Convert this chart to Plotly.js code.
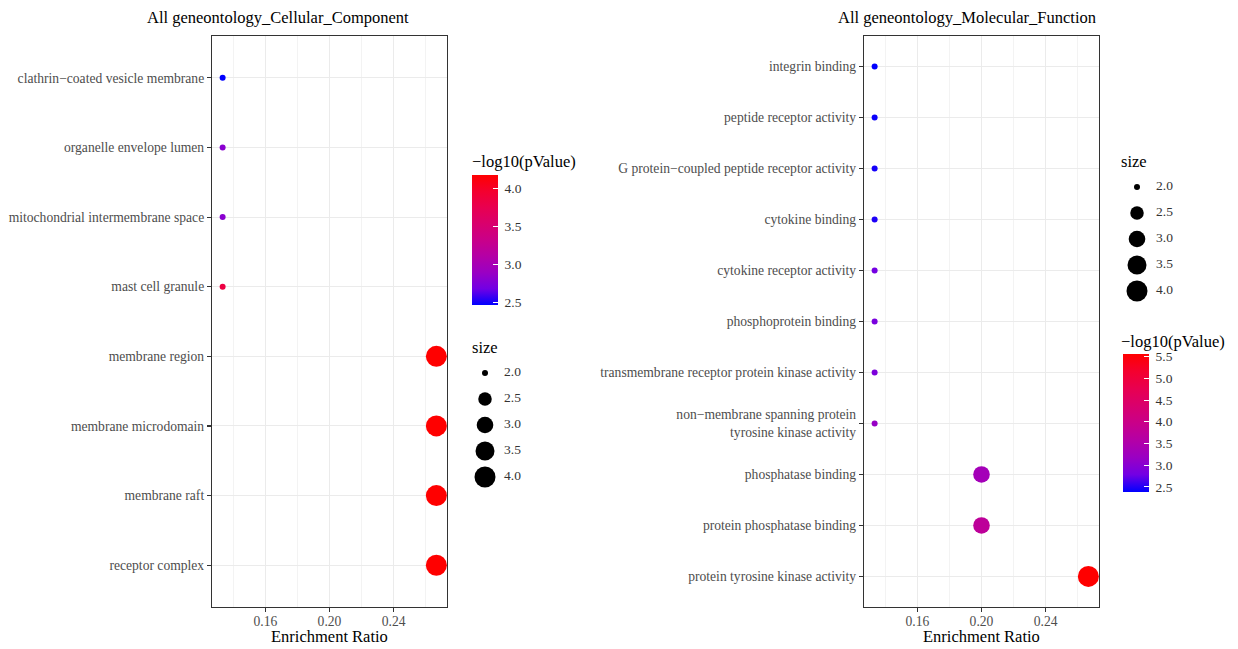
<!DOCTYPE html>
<html><head><meta charset="utf-8">
<script src="https://cdn.plot.ly/plotly-3.0.1.min.js"></script>
<style>html,body{margin:0;padding:0;background:#fff}</style>
</head><body><div id="chart" style="width:1238px;height:649px"></div>
<script>
// ---- Cellular Component data ----
const ccTerms = ['clathrin−coated vesicle membrane','organelle envelope lumen','mitochondrial intermembrane space','mast cell granule','membrane region','membrane microdomain','membrane raft','receptor complex'];
const ccRatio = [0.1333,0.1333,0.1333,0.1333,0.2667,0.2667,0.2667,0.2667];
const ccSize = [2,2,2,2,4,4,4,4];
const ccLogP = [2.47,2.81,2.81,3.83,4.17,4.17,4.17,4.17];
// ---- Molecular Function data ----
const mfTerms = ['integrin binding','peptide receptor activity','G protein−coupled peptide receptor activity','cytokine binding','cytokine receptor activity','phosphoprotein binding','transmembrane receptor protein kinase activity','non−membrane spanning protein<br>tyrosine kinase activity','phosphatase binding','protein phosphatase binding','protein tyrosine kinase activity'];
const mfRatio = [0.1333,0.1333,0.1333,0.1333,0.1333,0.1333,0.1333,0.1333,0.2,0.2,0.2667];
const mfSize = [2,2,2,2,2,2,2,2,3,3,4];
const mfLogP = [2.38,2.42,2.45,2.48,2.80,2.85,2.88,3.15,3.33,3.75,5.56];
// ---- legend breaks ----
const sizeBreaks = [2.0,2.5,3.0,3.5,4.0];
const ccColorTicks = [2.5,3.0,3.5,4.0];
const mfColorTicks = [2.5,3.0,3.5,4.0,4.5,5.0,5.5];

const W = 1238, H = 649;
const px = v => v / W, py = v => 1 - v / H;
const FONT = 'Liberation Serif, Times New Roman, serif';
// ggplot-like blue->red gradient (Lab interpolation approximated)
const cscale = [[0,'rgb(0,0,255)'],[0.125,'rgb(114,0,228)'],[0.25,'rgb(154,0,195)'],[0.375,'rgb(180,0,166)'],[0.5,'rgb(201,0,137)'],[0.625,'rgb(217,0,109)'],[0.75,'rgb(232,0,80)'],[0.875,'rgb(244,0,46)'],[1,'rgb(255,0,0)']];
// area size scale, size range 2..4 -> ggplot size 1..6
const diam = v => { const s = 1 + 5*Math.sqrt(Math.max(0,(v-2)/2)); return 3*s + 3; };

const tickFont = {family: FONT, size: 13.6, color: '#4D4D4D'};
function xax(d0, d1, anchor) {
  return {domain:[px(d0),px(d1)], anchor:anchor, range:[0.126667,0.273333], tick0:0.12, dtick:0.04, tickformat:'.2f',
    ticks:'outside', ticklen:4, tickcolor:'#333', tickwidth:1.1, showline:true, mirror:true, linecolor:'#333', linewidth:1.1,
    showgrid:true, gridcolor:'#EBEBEB', gridwidth:1, zeroline:false, tickfont:tickFont, ticklabelstandoff:-2,
    minor:{tick0:0.14, dtick:0.04, showgrid:true, gridcolor:'#EBEBEB', gridwidth:0.6, ticks:''}};
}
function yax(terms, anchor) {
  return {domain:[py(607),py(36)], anchor:anchor, type:'category', categoryorder:'array', categoryarray:terms,
    range:[terms.length-0.4,-0.6], ticks:'outside', ticklen:4, tickcolor:'#333', tickwidth:1.1,
    showline:true, mirror:true, linecolor:'#333', linewidth:1.1, showgrid:true, gridcolor:'#EBEBEB', gridwidth:1,
    zeroline:false, tickfont:tickFont};
}
function cbar(xl, yc, len, ticks) {
  return {x:px(xl), xanchor:'left', y:py(yc), yanchor:'middle', len:len, lenmode:'pixels', thickness:26, thicknessmode:'pixels',
    xpad:0, ypad:0, outlinewidth:0, ticks:'inside', ticklen:5, tickcolor:'#fff', tickwidth:1,
    tickvals:ticks, ticktext:ticks.map(v => '\u2005' + v.toFixed(1)), tickfont:{family:FONT, size:13.5, color:'#333'}};
}

const legendText = {family:FONT, size:13.5, color:'#333'};
const traces = [
  {type:'scatter', mode:'markers', x:ccRatio, y:ccTerms, xaxis:'x', yaxis:'y', showlegend:false,
   marker:{size:ccSize.map(diam), color:ccLogP, colorscale:cscale, line:{width:0}, opacity:1,
     colorbar:cbar(472, 240, 130, ccColorTicks)}},
  {type:'scatter', mode:'markers', x:mfRatio, y:mfTerms, xaxis:'x2', yaxis:'y2', showlegend:false,
   marker:{size:mfSize.map(diam), color:mfLogP, colorscale:cscale, line:{width:0}, opacity:1,
     colorbar:cbar(1123, 423, 138, mfColorTicks)}},
  // size legends
  {type:'scatter', mode:'markers', x:sizeBreaks.map(()=>0), y:sizeBreaks, xaxis:'x3', yaxis:'y3', showlegend:false, cliponaxis:false,
   marker:{size:sizeBreaks.map(diam), color:'#000', opacity:1, line:{width:0}}, hoverinfo:'skip'},
  {type:'scatter', mode:'text', x:sizeBreaks.map(()=>1.9), y:sizeBreaks, text:sizeBreaks.map(v=>v.toFixed(1)), textposition:'middle right',
   xaxis:'x3', yaxis:'y3', showlegend:false, cliponaxis:false, textfont:legendText, hoverinfo:'skip'},
  {type:'scatter', mode:'markers', x:sizeBreaks.map(()=>0), y:sizeBreaks, xaxis:'x4', yaxis:'y4', showlegend:false, cliponaxis:false,
   marker:{size:sizeBreaks.map(diam), color:'#000', opacity:1, line:{width:0}}, hoverinfo:'skip'},
  {type:'scatter', mode:'text', x:sizeBreaks.map(()=>1.9), y:sizeBreaks, text:sizeBreaks.map(v=>v.toFixed(1)), textposition:'middle right',
   xaxis:'x4', yaxis:'y4', showlegend:false, cliponaxis:false, textfont:legendText, hoverinfo:'skip'}
];

const hidden = (d0,d1,r) => ({domain:[d0,d1], range:r, visible:false, fixedrange:true, showgrid:false, zeroline:false});
const ann = (text, x, y, size, anchor) => ({text:text, xref:'paper', yref:'paper', x:px(x), y:py(y), xanchor:anchor, yanchor:'middle',
  showarrow:false, font:{family:FONT, size:size, color:'#000'}});
const layout = {
  width:W, height:H, margin:{l:0,r:0,t:0,b:0}, paper_bgcolor:'#fff', plot_bgcolor:'#fff', showlegend:false,
  font:{family:FONT},
  xaxis: xax(212, 447, 'y'),
  yaxis: yax(ccTerms, 'x'),
  xaxis2: xax(864, 1099, 'y2'),
  yaxis2: yax(mfTerms, 'x2'),
  xaxis3: Object.assign(hidden(px(475), px(515), [-1,3]), {anchor:'y3'}),
  yaxis3: Object.assign(hidden(py(490), py(360), [4.25,1.75]), {anchor:'x3'}),
  xaxis4: Object.assign(hidden(px(1127), px(1167), [-1,3]), {anchor:'y4'}),
  yaxis4: Object.assign(hidden(py(304), py(174), [4.25,1.75]), {anchor:'x4'}),
  annotations: [
    ann('All geneontology_Cellular_Component', 277.5, 18, 16.5, 'center'),
    ann('All geneontology_Molecular_Function', 966.5, 18, 16.5, 'center'),
    ann('Enrichment Ratio', 329.5, 636.5, 16.5, 'center'),
    ann('Enrichment Ratio', 981.5, 636.5, 16.5, 'center'),
    ann('−log10(pValue)', 470, 161, 16.5, 'left'),
    ann('size', 470, 347, 16.5, 'left'),
    ann('size', 1119, 161, 16.5, 'left'),
    ann('−log10(pValue)', 1119, 341, 16.5, 'left')
  ]
};
Plotly.newPlot('chart', traces, layout, {displayModeBar:false, staticPlot:true});
</script></body></html>
